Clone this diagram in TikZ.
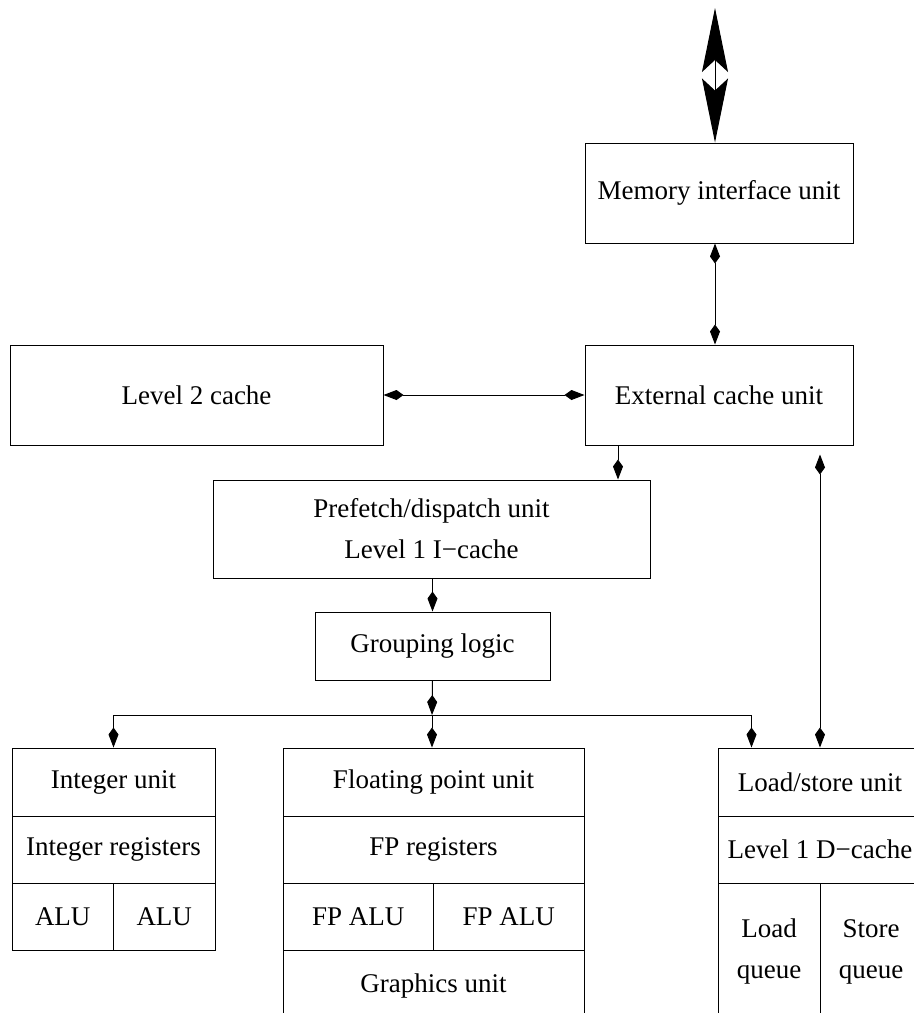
\documentclass[tikz,border=0pt]{standalone}
\usepackage{fontspec}
\setmainfont{Liberation Serif}
\usetikzlibrary{arrows.meta}
\tikzset{
  % a block of the processor, or one cell of a block
  unitbox/.style = {draw=black, line width=0.5pt, rectangle, inner sep=0pt, align=center},
  % connector with a kite head at its end
  link/.style    = {line width=0.5pt, -{Kite[length=10pt,width=5pt,inset=3.5pt]}},
  % connector with a kite head at each end
  dlink/.style   = {line width=0.5pt, {Kite[length=10pt,width=5pt,inset=3.5pt]}-{Kite[length=10pt,width=5pt,inset=3.5pt]}},
  % the wide arrow to the outside bus
  busarrow/.style = {line width=0.5pt, {Stealth[length=32pt,width=13pt,inset=6pt]}-{Stealth[length=32pt,width=13pt,inset=6pt]}},
}

\begin{document}
\begin{tikzpicture}[x=0.5pt,y=-0.5pt,font=\fontsize{13.5}{20.5}\selectfont]
  \clip (0,0) rectangle (914,1013);
  % upper blocks
  \node[unitbox,minimum width=134pt,minimum height=50pt] (memif) at (719,193) {Memory interface unit};
  \node[unitbox,minimum width=134pt,minimum height=50pt] (extcache) at (719,395) {External cache unit};
  \node[unitbox,minimum width=186.5pt,minimum height=50pt] (ltwo) at (196.5,395) {Level 2 cache};
  \node[unitbox,minimum width=218.5pt,minimum height=49pt] (prefetch) at (431.5,529) {Prefetch/dispatch unit\\ Level 1 I−cache};
  \node[unitbox,minimum width=117.5pt,minimum height=34pt] (grouping) at (432.5,646) {Grouping logic};
  % integer unit
  \node[unitbox,minimum width=101.5pt,minimum height=34pt] (intunit) at (113.5,782) {Integer unit};
  \node[unitbox,minimum width=101.5pt,minimum height=33.5pt] (intreg) at (113.5,849.5) {Integer registers};
  \node[unitbox,minimum width=50.75pt,minimum height=33.5pt] (alua) at (62.75,916.5) {ALU};
  \node[unitbox,minimum width=50.75pt,minimum height=33.5pt] (alub) at (164.25,916.5) {ALU};
  % floating point unit
  \node[unitbox,minimum width=150.5pt,minimum height=34pt] (fpunit) at (433.5,782) {Floating point unit};
  \node[unitbox,minimum width=150.5pt,minimum height=33.5pt] (fpreg) at (433.5,849.5) {FP registers};
  \node[unitbox,minimum width=75.25pt,minimum height=33.5pt] (fpalua) at (358.25,916.5) {FP ALU};
  \node[unitbox,minimum width=75.25pt,minimum height=33.5pt] (fpalub) at (508.75,916.5) {FP ALU};
  \node[unitbox,minimum width=150.5pt,minimum height=36pt] (graphics) at (433.5,986) {Graphics unit};
  % load/store unit
  \node[unitbox,minimum width=102pt,minimum height=34pt] (lsunit) at (820,782) {Load/store unit};
  \node[unitbox,minimum width=102pt,minimum height=33.5pt] (dcache) at (820,849.5) {Level 1 D−cache};
  \node[unitbox,minimum width=51pt,minimum height=68.5pt] (loadq) at (769,951.5) {Load\\ queue};
  \node[unitbox,minimum width=51pt,minimum height=68.5pt] (storeq) at (871,951.5) {Store\\ queue};
  % connectors
  \coordinate (bus) at (715,8);
  \coordinate (pf) at (618,0);
  \coordinate (split) at (432,715);
  \draw[busarrow] (bus) -- (memif.north -| bus);
  \draw[dlink] (memif.south -| bus) -- (extcache.north -| bus);
  \draw[dlink] (ltwo.east) -- (extcache.west);
  \draw[link] (extcache.south -| pf) -- (prefetch.north -| pf);
  \draw[dlink, shorten <=4.5pt] (lsunit.north |- extcache.south) -- (lsunit.north);
  \draw[link] (prefetch.south) -- (grouping.south |- prefetch.south) -- (grouping.north);
  \draw[link] (grouping.south) -- (split);
  \draw[link] (split) -| (intunit.north);
  \draw[link] (split) -- (fpunit.north -| split);
  \draw[link] (split) -| ([xshift=17pt]lsunit.north west);
\end{tikzpicture}
\end{document}
